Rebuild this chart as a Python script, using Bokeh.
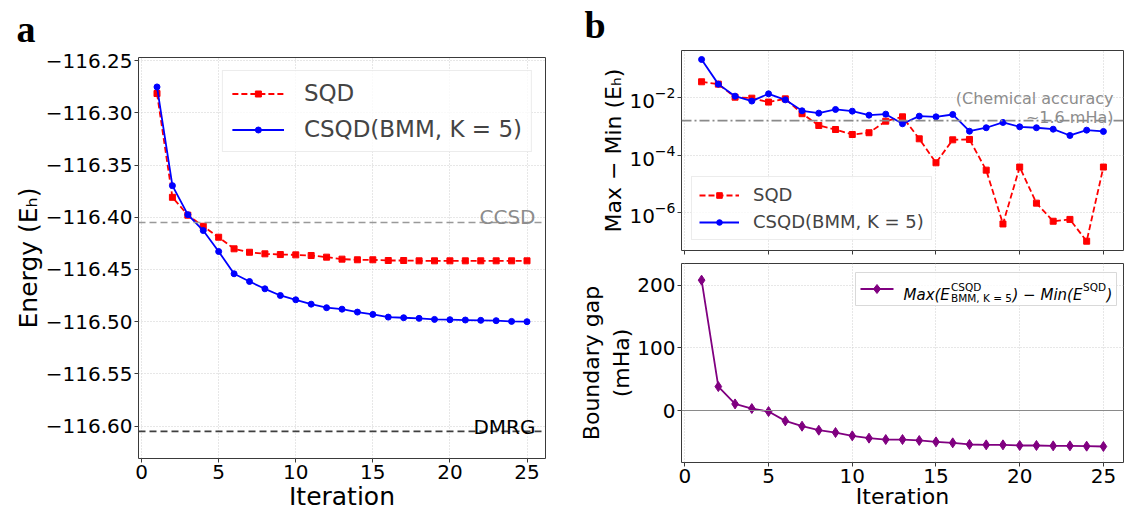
from bokeh.plotting import figure
from bokeh.layouts import row, column
from bokeh.models import (Range1d, FixedTicker, CustomJSTickFormatter, LogTickFormatter, Legend,
                          LegendItem, Span, Label, BoxAnnotation, PolyAnnotation, Title)
from bokeh.embed import file_html
from bokeh.resources import INLINE

FONT = "DejaVu Sans"
SERIF = "Liberation Serif"

# ---------------- data ----------------
iterations = list(range(1, 26))
sqd_energy = [-116.2815, -116.3809, -116.3980, -116.4086, -116.4191, -116.4302, -116.4335, -116.4350,
              -116.4357, -116.4360, -116.4366, -116.4382, -116.4401, -116.4407, -116.4407, -116.4414,
              -116.4414, -116.4417, -116.4417, -116.4417, -116.4417, -116.4417, -116.4417, -116.4417,
              -116.4417]
csqd_energy = [-116.2752, -116.3697, -116.3975, -116.4127, -116.4328, -116.4541, -116.4615, -116.4685,
               -116.4749, -116.4790, -116.4832, -116.4866, -116.4880, -116.4908, -116.4930, -116.4956,
               -116.4962, -116.4968, -116.4978, -116.4981, -116.4984, -116.4987, -116.4990, -116.4997,
               -116.5000]
ccsd_energy = -116.405
dmrg_energy = -116.605

sqd_spread = [3.61e-2, 2.99e-2, 1.05e-2, 9.7e-3, 7.1e-3, 9.2e-3, 2.8e-3, 1.09e-3, 7.9e-4, 5.3e-4,
              6.1e-4, 1.54e-3, 2.18e-3, 3.75e-4, 5.5e-5, 3.46e-4, 3.56e-4, 3.05e-5, 4.1e-7, 3.9e-5,
              2.17e-6, 5.1e-7, 5.9e-7, 1.03e-7, 3.9e-5]
csqd_spread = [0.215, 2.99e-2, 1.14e-2, 7.7e-3, 1.38e-2, 8.5e-3, 3.53e-3, 2.93e-3, 3.93e-3, 3.43e-3,
               2.49e-3, 2.7e-3, 1.25e-3, 2.3e-3, 2.18e-3, 2.63e-3, 6.9e-4, 9.1e-4, 1.39e-3, 9.8e-4,
               9.1e-4, 8.1e-4, 4.9e-4, 7.5e-4, 6.75e-4]
chem_accuracy = 1.6e-3

boundary_gap = [208.4, 38.3, 10.6, 3.2, -1.6, -16.5, -25.0, -31.4, -35.1, -40.4, -44.1, -46.3, -46.3,
                -47.8, -50.0, -51.6, -54.2, -54.8, -54.8, -55.8, -55.8, -56.4, -56.4, -56.9, -57.4]

x_ticks = [0, 5, 10, 15, 20, 25]
energy_ticks = [-116.60, -116.55, -116.50, -116.45, -116.40, -116.35, -116.30, -116.25]
spread_ticks = [1e-6, 1e-4, 1e-2]
gap_ticks = [0, 100, 200]

# ---------------- layout (page has no margin) ----------------
A_LEFT, A_W, A_RIGHT, A_TOP, A_H, A_BOTTOM = 138, 407, 20, 57, 401, 54
B_LEFT, B_W, B_RIGHT = 116, 442, 1
B1_TOP, B1_H, B1_BOTTOM = 50, 200, 6
B2_TOP, B2_H, B2_BOTTOM = 7, 199, 50


def make_fig(fw, fh, yr, borders, y_axis_type="linear"):
    l, r, t, b = borders
    p = figure(frame_width=fw, frame_height=fh, x_range=Range1d(-0.2, 26.2), y_range=yr,
               y_axis_type=y_axis_type, output_backend="svg", toolbar_location=None, title=None,
               min_border_left=l, min_border_right=r, min_border_top=t, min_border_bottom=b)
    p.background_fill_color = "white"
    p.border_fill_color = "white"
    p.outline_line_color = "#3a3a3a"
    p.outline_line_width = 1
    p.xaxis.ticker = FixedTicker(ticks=x_ticks)
    for ax in p.axis:
        ax.axis_line_color = None
        ax.major_tick_line_color = "#3a3a3a"
        ax.major_tick_out = 4
        ax.major_tick_in = 0
        ax.minor_tick_line_color = None
        ax.major_label_text_font = FONT
        ax.major_label_text_font_size = "20px"
        ax.major_label_text_color = "black"
        ax.major_label_standoff = 2
        ax.axis_label_text_font = FONT
        ax.axis_label_text_font_style = "normal"
        ax.axis_label_text_color = "black"
        ax.axis_label_standoff = 0
    p.grid.grid_line_color = "#c8c8c8"
    p.grid.grid_line_dash = "1 2"
    p.grid.grid_line_width = 0.9
    return p


def panel_letter(p, letter, offset, standoff):
    t = Title(text=letter, align="left", vertical_align="top", offset=offset,
              text_font=SERIF, text_font_style="bold", text_font_size="38px", text_color="black")
    try:
        t.standoff = standoff
    except Exception:
        t.standoff = 0
    p.title = t
    p.title_location = "above"


# ---------------- panel a ----------------
pa = make_fig(A_W, A_H, Range1d(-116.631, -116.247), (A_LEFT, A_RIGHT, A_TOP, A_BOTTOM))
pa.yaxis.ticker = FixedTicker(ticks=energy_ticks)
pa.yaxis.formatter = CustomJSTickFormatter(
    code="return (tick < 0 ? '\u2212' : '') + Math.abs(tick).toFixed(2);")
pa.xaxis.axis_label = "Iteration"
pa.yaxis.axis_label = "Energy (E\u2095)"
pa.xaxis.axis_label_text_font_size = "25px"
pa.yaxis.axis_label_text_font_size = "25px"

pa.add_layout(Span(location=ccsd_energy, dimension="width", line_color="#999999",
                   line_dash="7 4", line_width=1.6))
pa.add_layout(Span(location=dmrg_energy, dimension="width", line_color="#3f3f3f",
                   line_dash="7 4", line_width=1.6))
pa.add_layout(Label(x=A_W - 10, x_units="screen", y=ccsd_energy, y_units="data", y_offset=5,
                    text="CCSD", text_align="right", text_baseline="alphabetic",
                    text_font=FONT, text_font_size="20px", text_color="#8c8c8c"))
pa.add_layout(Label(x=A_W - 10, x_units="screen", y=dmrg_energy, y_units="data", y_offset=4,
                    text="DMRG", text_align="right", text_baseline="alphabetic",
                    text_font=FONT, text_font_size="20px", text_color="black"))

a_sqd_l = pa.line(iterations, sqd_energy, line_color="red", line_width=1.8, line_dash="6 3")
a_sqd_m = pa.scatter(iterations, sqd_energy, marker="square", size=6, color="red")
a_csqd_l = pa.line(iterations, csqd_energy, line_color="blue", line_width=1.8)
a_csqd_m = pa.scatter(iterations, csqd_energy, marker="circle", size=6, color="blue")

leg_a = Legend(items=[LegendItem(label="SQD", renderers=[a_sqd_l, a_sqd_m]),
                      LegendItem(label="CSQD(BMM, K = 5)", renderers=[a_csqd_l, a_csqd_m])],
               location="top_right", margin=13, padding=9, spacing=10, glyph_width=52,
               glyph_height=15, label_standoff=20, label_text_font=FONT,
               label_text_font_size="23px", border_line_color="#d9d9d9", border_line_width=1,
               background_fill_alpha=0.8)
pa.add_layout(leg_a)
panel_letter(pa, "a", -122, 12)

# ---------------- panel b (top) ----------------
pb1 = make_fig(B_W, B1_H, Range1d(10 ** -7.31, 10 ** -0.355), (B_LEFT, B_RIGHT, B1_TOP, B1_BOTTOM),
               y_axis_type="log")
pb1.yaxis.ticker = FixedTicker(ticks=spread_ticks)
pb1.yaxis.formatter = LogTickFormatter()
pb1.xaxis.formatter = CustomJSTickFormatter(code="return '';")
pb1.xaxis.major_label_text_font_size = "1px"
pb1.xaxis.major_label_standoff = 0
pb1.yaxis.axis_label = "Max \u2212 Min (E\u2095)"
pb1.yaxis.axis_label_text_font_size = "22px"

pb1.add_layout(Span(location=chem_accuracy, dimension="width", line_color="#8a8a8a",
                    line_dash="10 3 2 3", line_width=1.8))
pb1.add_layout(Label(x=B_W - 10, x_units="screen", y=chem_accuracy, y_units="data", y_offset=22,
                     text="(Chemical accuracy", text_align="right", text_baseline="alphabetic",
                     text_font=FONT, text_font_size="16px", text_color="#8c8c8c"))
pb1.add_layout(Label(x=B_W - 10, x_units="screen", y=chem_accuracy, y_units="data", y_offset=3,
                     text="~1.6 mHa)", text_align="right", text_baseline="alphabetic",
                     text_font=FONT, text_font_size="16px", text_color="#8c8c8c"))

b_sqd_l = pb1.line(iterations, sqd_spread, line_color="red", line_width=1.8, line_dash="6 3")
b_sqd_m = pb1.scatter(iterations, sqd_spread, marker="square", size=6, color="red")
b_csqd_l = pb1.line(iterations, csqd_spread, line_color="blue", line_width=1.8)
b_csqd_m = pb1.scatter(iterations, csqd_spread, marker="circle", size=6, color="blue")

leg_b = Legend(items=[LegendItem(label="SQD", renderers=[b_sqd_l, b_sqd_m]),
                      LegendItem(label="CSQD(BMM, K = 5)", renderers=[b_csqd_l, b_csqd_m])],
               location="bottom_left", margin=10, padding=7, spacing=6, glyph_width=40,
               glyph_height=14, label_standoff=14, label_text_font=FONT,
               label_text_font_size="18px", border_line_color="#d9d9d9", border_line_width=1,
               background_fill_alpha=0.8)
pb1.add_layout(leg_b)
panel_letter(pb1, "b", -97, 5)

# ---------------- panel b (bottom) ----------------
pb2 = make_fig(B_W, B2_H, Range1d(-83, 235), (B_LEFT, B_RIGHT, B2_TOP, B2_BOTTOM))
pb2.yaxis.ticker = FixedTicker(ticks=gap_ticks)
pb2.xaxis.axis_label = "Iteration"
pb2.yaxis.axis_label = "Boundary gap\n(mHa)"
pb2.xaxis.axis_label_text_font_size = "22px"
pb2.yaxis.axis_label_text_font_size = "22px"
pb2.xaxis.axis_label_standoff = -2
pb2.add_layout(Span(location=0, dimension="width", line_color="#8a8a8a", line_width=1.1))

pb2.line(iterations, boundary_gap, line_color="purple", line_width=1.8)
pb2.scatter(iterations, boundary_gap, marker="diamond", size=10, color="purple")

# hand-made legend (math-style label)
W, H = B_W, B2_H
pb2.add_layout(BoxAnnotation(left=W - 268, right=W - 7, top=H - 9, bottom=H - 42,
                             left_units="screen", right_units="screen", top_units="screen",
                             bottom_units="screen", fill_color="white", fill_alpha=0.8,
                             line_color="#d9d9d9", line_alpha=1, line_width=1,
                             level="annotation"))
hy = H - 25.5
pb2.add_layout(PolyAnnotation(xs=[W - 263, W - 230, W - 263], ys=[hy, hy, hy],
                              xs_units="screen", ys_units="screen", line_color="purple",
                              line_alpha=1, line_width=1.8, fill_alpha=0))
dx = W - 246.5
pb2.add_layout(PolyAnnotation(xs=[dx - 3.5, dx, dx + 3.5, dx], ys=[hy, hy + 4.5, hy, hy - 4.5],
                              xs_units="screen", ys_units="screen", line_color="purple",
                              line_alpha=1, fill_color="purple", fill_alpha=1))


def leg_text(x, y, txt, size, style):
    pb2.add_layout(Label(x=x, y=y, x_units="screen", y_units="screen", text=txt,
                         text_font=FONT, text_font_size=size, text_font_style=style,
                         text_baseline="alphabetic", text_align="left", text_color="black"))


base_y = H - 31.5
leg_text(W - 220, base_y, "Max(E", "15px", "italic")
leg_text(W - 172.5, H - 23, "CSQD", "10.5px", "normal")
leg_text(W - 172.5, H - 34.5, "BMM, K = 5", "10.5px", "normal")
leg_text(W - 111, base_y, ") \u2212 Min(E", "15px", "italic")
leg_text(W - 40.5, H - 23, "SQD", "10.5px", "normal")
leg_text(W - 17, base_y, ")", "15px", "italic")

layout = row(pa, column(pb1, pb2))
open("out.html", "w").write(file_html(layout, INLINE))
